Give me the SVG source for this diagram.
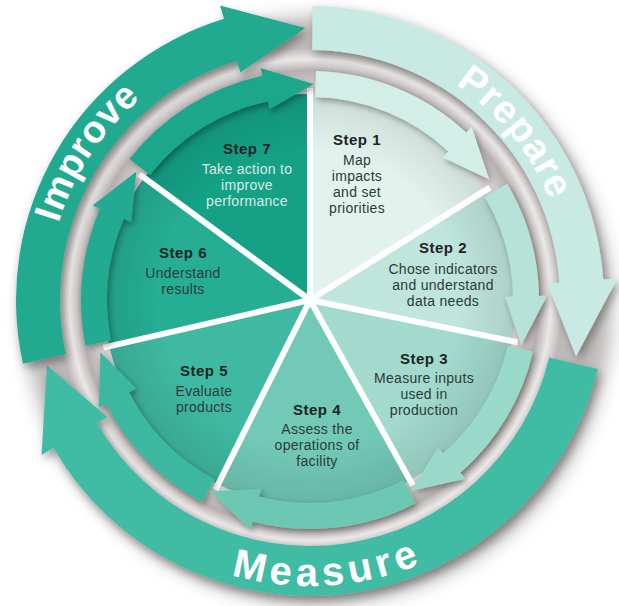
<svg xmlns="http://www.w3.org/2000/svg" width="619" height="606" viewBox="0 0 619 606">
<defs>
 <radialGradient id="groove" gradientUnits="userSpaceOnUse" cx="310" cy="300" r="252">
  <stop offset="0" stop-color="#d8d2d2"/>
  <stop offset="0.86" stop-color="#d3cccc"/>
  <stop offset="0.91" stop-color="#b7afaf"/>
  <stop offset="0.955" stop-color="#ebe8e8"/>
  <stop offset="1" stop-color="#c2baba"/>
 </radialGradient>
 <radialGradient id="pieShade" gradientUnits="userSpaceOnUse" cx="310" cy="300" r="206">
  <stop offset="0.72" stop-color="#000" stop-opacity="0"/>
  <stop offset="1" stop-color="#000" stop-opacity="0.10"/>
 </radialGradient>
 <filter id="outerShadow" x="-20%" y="-20%" width="140%" height="140%">
  <feGaussianBlur stdDeviation="9"/>
 </filter>
 <filter id="ds" x="-20%" y="-20%" width="140%" height="140%">
  <feDropShadow dx="2" dy="3" stdDeviation="3" flood-color="#000" flood-opacity="0.35"/>
 </filter>
 <filter id="dsBig" x="-20%" y="-20%" width="140%" height="140%">
  <feDropShadow dx="3" dy="5" stdDeviation="5" flood-color="#000" flood-opacity="0.35"/>
 </filter>
</defs>
<style>
 .t{font-family:"Liberation Sans",Arial,sans-serif;text-anchor:middle}
 .h{font-weight:bold;font-size:15px;fill:#1b2525;letter-spacing:0.5px}
 .b{font-size:14px;fill:#2c3b3a;letter-spacing:0.3px}
 .bl{font-size:14px;fill:#d8ebe6;letter-spacing:0.3px}
 .big{font-family:"Liberation Sans",Arial,sans-serif;font-weight:bold;fill:#ffffff}
 .div{stroke:#ffffff;stroke-width:6;stroke-linecap:butt}
 .shade{fill:url(#pieShade)}
</style>
<rect width="619" height="606" fill="#ffffff"/>
<circle cx="318" cy="310" r="294" fill="#8a8282" opacity="0.55" filter="url(#outerShadow)"/>
<circle cx="310" cy="300" r="252" fill="url(#groove)"/>

<g id="step1">
 <path d="M310,300 L310,94 A206,206 0 0 1 484.70,190.84 Z" fill="#e2f3ee"/>
 <path class="shade" d="M310,300 L310,94 A206,206 0 0 1 484.70,190.84 Z"/>
 <text class="t h" x="357" y="145">Step 1</text>
 <text class="t b" x="357" y="165">Map</text>
 <text class="t b" x="357" y="181">impacts</text>
 <text class="t b" x="357" y="197">and set</text>
 <text class="t b" x="357" y="213">priorities</text>
</g>
<g id="step2">
 <path d="M310,300 L484.70,190.84 A206,206 0 0 1 511.87,341.07 Z" fill="#bfe5dc"/>
 <path class="shade" d="M310,300 L484.70,190.84 A206,206 0 0 1 511.87,341.07 Z"/>
 <text class="t h" x="443" y="253">Step 2</text>
 <text class="t b" x="443" y="274">Chose indicators</text>
 <text class="t b" x="443" y="290">and understand</text>
 <text class="t b" x="443" y="306">data needs</text>
</g>
<g id="step3">
 <path d="M310,300 L511.87,341.07 A206,206 0 0 1 409.87,480.17 Z" fill="#a2dacd"/>
 <path class="shade" d="M310,300 L511.87,341.07 A206,206 0 0 1 409.87,480.17 Z"/>
 <text class="t h" x="424" y="364">Step 3</text>
 <text class="t b" x="424" y="383">Measure inputs</text>
 <text class="t b" x="424" y="399">used in</text>
 <text class="t b" x="424" y="415">production</text>
</g>
<g id="step4">
 <path d="M310,300 L409.87,480.17 A206,206 0 0 1 218.08,484.36 Z" fill="#72c9b6"/>
 <path class="shade" d="M310,300 L409.87,480.17 A206,206 0 0 1 218.08,484.36 Z"/>
 <text class="t h" x="317" y="415">Step 4</text>
 <text class="t b" x="317" y="434">Assess the</text>
 <text class="t b" x="317" y="450">operations of</text>
 <text class="t b" x="317" y="466">facility</text>
</g>
<g id="step5">
 <path d="M310,300 L218.08,484.36 A206,206 0 0 1 109.28,346.34 Z" fill="#3fb9a1"/>
 <path class="shade" d="M310,300 L218.08,484.36 A206,206 0 0 1 109.28,346.34 Z"/>
 <text class="t h" x="204" y="376">Step 5</text>
 <text class="t b" x="204" y="396">Evaluate</text>
 <text class="t b" x="204" y="412">products</text>
</g>
<g id="step6">
 <path d="M310,300 L109.28,346.34 A206,206 0 0 1 144.19,177.76 Z" fill="#26ae95"/>
 <path class="shade" d="M310,300 L109.28,346.34 A206,206 0 0 1 144.19,177.76 Z"/>
 <text class="t h" x="183" y="258">Step 6</text>
 <text class="t b" x="183" y="278">Understand</text>
 <text class="t b" x="183" y="294">results</text>
</g>
<g id="step7">
 <path d="M310,300 L144.19,177.76 A206,206 0 0 1 310,94 Z" fill="#14a186"/>
 <path class="shade" d="M310,300 L144.19,177.76 A206,206 0 0 1 310,94 Z"/>
 <text class="t h" x="247" y="154">Step 7</text>
 <text class="t bl" x="247" y="174">Take action to</text>
 <text class="t bl" x="247" y="190">improve</text>
 <text class="t bl" x="247" y="206">performance</text>
</g>

<g id="dividers">
 <line class="div" x1="310" y1="300" x2="310" y2="88"/>
 <line class="div" x1="310" y1="300" x2="489.79" y2="187.66"/>
 <line class="div" x1="310" y1="300" x2="517.74" y2="342.27"/>
 <line class="div" x1="310" y1="300" x2="412.78" y2="485.42"/>
 <line class="div" x1="310" y1="300" x2="215.41" y2="489.73"/>
 <line class="div" x1="310" y1="300" x2="103.43" y2="347.69"/>
 <line class="div" x1="310" y1="300" x2="139.36" y2="174.20"/>
</g>

<g id="connectors" filter="url(#ds)">
 <path id="arrow1-2" fill="#d3eee7" d="M315.99,71.08 A229,229 0 0 1 466.18,132.52 L471.63,126.67 L489.07,179.21 L442.99,157.39 L448.45,151.53 A203,203 0 0 0 315.31,97.07 Z"/>
 <path id="arrow2-3" fill="#b6e2d8" d="M507.31,183.77 A229,229 0 0 1 538.97,296.00 L546.96,295.86 L521.28,344.91 L504.97,296.60 L512.97,296.46 A203,203 0 0 0 484.91,196.97 Z"/>
 <path id="arrow3-4" fill="#9ad8c9" d="M533.13,351.51 A229,229 0 0 1 460.24,472.83 L465.49,478.87 L411.41,490.72 L437.93,447.17 L443.18,453.21 A203,203 0 0 0 507.80,345.67 Z"/>
 <path id="arrow4-5" fill="#6cc7b3" d="M415.74,503.13 A229,229 0 0 1 252.66,521.71 L250.66,529.45 L210.26,491.59 L261.18,488.79 L259.17,496.53 A203,203 0 0 0 403.74,480.06 Z"/>
 <path id="arrow5-6" fill="#3db8a0" d="M202.49,502.20 A229,229 0 0 1 105.96,403.96 L98.83,407.60 L100.42,352.26 L136.25,388.53 L129.13,392.16 A203,203 0 0 0 214.70,479.24 Z"/>
 <path id="arrow6-7" fill="#22ab92" d="M85.60,345.66 A229,229 0 0 1 99.99,208.69 L92.66,205.50 L136.37,171.52 L131.17,222.24 L123.84,219.05 A203,203 0 0 0 111.08,340.47 Z"/>
 <path id="arrow7-1" fill="#1aa78d" d="M129.55,159.01 A229,229 0 0 1 262.39,76.00 L260.73,68.18 L313.77,84.03 L269.46,109.26 L267.79,101.44 A203,203 0 0 0 150.03,175.02 Z"/>
</g>

<g id="prepare">
 <path filter="url(#dsBig)" fill="#c8eae2" d="M312.57,6.01 A294,294 0 0 1 603.28,279.49 L617.25,278.52 L576.06,356.55 L547.42,283.40 L559.39,282.56 A250,250 0 0 0 312.18,50.01 Z"/>
 <path id="pPrepare" fill="none" d="M455.39,84.45 A260,260 0 0 1 570,300"/>
 <text class="big" font-size="39" letter-spacing="1"><textPath href="#pPrepare">Prepare</textPath></text>
</g>
<g id="measure">
 <path filter="url(#dsBig)" fill="#40bba4" d="M597.82,369.10 A296,296 0 0 1 53.66,448 L41.53,455 L47.05,365.56 L107.35,417 L96.96,423 A246,246 0 0 0 549.20,357.43 Z"/>
 <path id="pMeasure" fill="none" d="M231.17,574.92 A286,286 0 0 0 493.84,519.09"/>
 <text class="big" font-size="40" letter-spacing="5"><textPath href="#pMeasure">Measure</textPath></text>
</g>
<g id="improve">
 <path filter="url(#dsBig)" fill="#20aa91" d="M22.97,363.63 A294,294 0 0 1 224.04,18.85 L219.95,5.46 L305.25,28.04 L240.42,72.40 L236.91,60.92 A250,250 0 0 0 65.93,354.11 Z"/>
 <path id="pImprove" fill="none" d="M58.49,223.11 A263,263 0 0 1 220.05,52.86"/>
 <text class="big" font-size="38" letter-spacing="0.5"><textPath href="#pImprove">Improve</textPath></text>
</g>
</svg>
